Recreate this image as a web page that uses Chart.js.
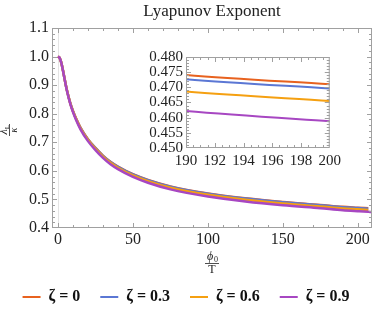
<!DOCTYPE html>
<html>
<head>
<meta charset="utf-8">
<script src="https://cdn.jsdelivr.net/npm/chart.js@4.4.1/dist/chart.umd.min.js"></script>
<style>
  body { margin: 0; background: #fff; }
  #wrap { position: relative; width: 374px; height: 311px; }
  #mainChart { position: absolute; left: 0; top: 0; }
  #insetChart { position: absolute; left: 128px; top: 45px; }
</style>
</head>
<body>
<div id="wrap">
  <canvas id="mainChart" width="374" height="311"></canvas>
  <canvas id="insetChart" width="217" height="135"></canvas>
</div>
<script>
// data
const phiOverT = [0, 1, 2, 3, 4, 5, 6, 8, 10, 12, 15, 20, 25, 30, 35, 40, 50, 60, 75, 100, 125, 150, 175, 190, 200, 207];
const phiOverTLong = [0, 1, 2, 3, 4, 5, 6, 8, 10, 12, 15, 20, 25, 30, 35, 40, 50, 60, 75, 100, 125, 150, 175, 190, 200, 207, 209];
const zeta0 = [1.000, 0.996, 0.982, 0.960, 0.933, 0.906, 0.8815, 0.841, 0.8095, 0.784, 0.7515, 0.711, 0.6803, 0.6536, 0.6318, 0.615, 0.5882, 0.5684, 0.5457, 0.521, 0.5042, 0.4913, 0.4809, 0.4741, 0.471, 0.4689];
const zeta03 = [1.000, 0.996, 0.982, 0.960, 0.933, 0.906, 0.8814, 0.8408, 0.8091, 0.7835, 0.7509, 0.7102, 0.6795, 0.6527, 0.6308, 0.614, 0.5872, 0.5673, 0.5445, 0.5197, 0.5029, 0.490, 0.4795, 0.4727, 0.4696, 0.4675];
const zeta06 = [1.000, 0.996, 0.982, 0.960, 0.933, 0.906, 0.881, 0.840, 0.808, 0.782, 0.749, 0.708, 0.677, 0.650, 0.628, 0.611, 0.584, 0.564, 0.541, 0.516, 0.499, 0.486, 0.4755, 0.4686, 0.4655, 0.4634];
const zeta09 = [1.000, 0.996, 0.982, 0.9595, 0.932, 0.9048, 0.8795, 0.838, 0.8055, 0.779, 0.7455, 0.704, 0.6727, 0.6454, 0.6232, 0.606, 0.5787, 0.5585, 0.5352, 0.510, 0.4928, 0.4796, 0.469, 0.4622, 0.4588, 0.4566, 0.4561];
const zetaLabels = ['\u03B6 = 0', '\u03B6 = 0.3', '\u03B6 = 0.6', '\u03B6 = 0.9'];
const mainXTicks = [0, 50, 100, 150, 200];
const mainYTicks = [0.4, 0.5, 0.6, 0.7, 0.8, 0.9, 1.0, 1.1];
const insetXTicks = [190, 192, 194, 196, 198, 200];
const insetYTicks = [0.450, 0.455, 0.460, 0.465, 0.470, 0.475, 0.480];

const colors = ['#e8621f', '#5b77d4', '#f5a011', '#a747c2'];
const serif = '"Liberation Serif", "DejaVu Serif", serif';

const toPoints = (xs, ys) => xs.map((x, i) => ({ x: x, y: ys[i] }));

function makeDatasets(width) {
  const series = [
    toPoints(phiOverT, zeta0),
    toPoints(phiOverT, zeta03),
    toPoints(phiOverT, zeta06),
    toPoints(phiOverTLong, zeta09),
  ];
  return series.map((pts, i) => ({
    label: zetaLabels[i],
    data: pts,
    borderColor: colors[i],
    backgroundColor: colors[i],
    borderWidth: width,
    pointRadius: 0,
    cubicInterpolationMode: 'monotone',
    order: 3 - i, // purple on top
  }));
}

// frame ticks pointing inward, on all four sides like the original
function frameTicks(o) {
  return {
    id: 'frameTicks',
    afterDatasetsDraw(chart) {
      const ctx = chart.ctx, a = chart.chartArea;
      const xs = chart.scales.x, ys = chart.scales.y;
      ctx.save();
      ctx.strokeStyle = '#a0a0a0';
      ctx.lineWidth = 1;
      ctx.strokeRect(a.left + 0.5, a.top + 0.5, a.right - a.left - 1, a.bottom - a.top - 1);
      ctx.beginPath();
      let n = Math.round((o.xEnd - o.xStart) / o.xMinor);
      for (let i = 0; i <= n; i++) {
        const px = Math.round(xs.getPixelForValue(o.xStart + i * o.xMinor)) + 0.5;
        if (px < a.left || px > a.right) continue;
        const len = i % o.xEvery === 0 ? 5 : 3;
        ctx.moveTo(px, a.bottom); ctx.lineTo(px, a.bottom - len);
        ctx.moveTo(px, a.top); ctx.lineTo(px, a.top + len);
      }
      n = Math.round((o.yEnd - o.yStart) / o.yMinor);
      for (let i = 0; i <= n; i++) {
        const py = Math.round(ys.getPixelForValue(o.yStart + i * o.yMinor)) + 0.5;
        if (py < a.top || py > a.bottom) continue;
        const len = i % o.yEvery === 0 ? 5 : 3;
        ctx.moveTo(a.left, py); ctx.lineTo(a.left + len, py);
        ctx.moveTo(a.right, py); ctx.lineTo(a.right - len, py);
      }
      ctx.stroke();
      ctx.restore();
    },
  };
}

const zeroLine = {
  id: 'zeroLine',
  beforeDatasetsDraw(chart) {
    const ctx = chart.ctx, a = chart.chartArea;
    const px = Math.round(chart.scales.x.getPixelForValue(0)) + 0.5;
    ctx.save();
    ctx.strokeStyle = '#e4e4e4';
    ctx.beginPath();
    ctx.moveTo(px, a.top); ctx.lineTo(px, a.bottom);
    ctx.stroke();
    ctx.restore();
  },
};

// title and the two fraction axis labels
const labels = {
  id: 'labels',
  afterDraw(chart) {
    const ctx = chart.ctx, a = chart.chartArea;
    const cx = (a.left + a.right) / 2;
    ctx.save();
    ctx.fillStyle = '#222';
    ctx.textAlign = 'center';
    ctx.textBaseline = 'middle';
    ctx.font = '17px ' + serif;
    ctx.fillText('Lyapunov Exponent', cx, 12);

    ctx.font = 'italic 12px ' + serif;
    ctx.fillText('\u03D5', cx - 2, 257);
    ctx.font = '8px ' + serif;
    ctx.fillText('0', cx + 4, 260);
    ctx.font = '12px ' + serif;
    ctx.fillText('T', cx, 270);
    ctx.strokeStyle = '#222';
    ctx.lineWidth = 0.8;
    ctx.beginPath();
    ctx.moveTo(cx - 7, 263.5); ctx.lineTo(cx + 7, 263.5);
    ctx.stroke();

    ctx.translate(8, 130);
    ctx.rotate(-Math.PI / 2);
    ctx.font = 'italic 12px ' + serif;
    ctx.fillText('\u03BB', -2, -4);
    ctx.font = '7px ' + serif;
    ctx.fillText('L', 3, -1);
    ctx.font = 'italic 10px ' + serif;
    ctx.fillText('\u03BA', 0, 6);
    ctx.beginPath();
    ctx.moveTo(-6, 1.5); ctx.lineTo(6, 1.5);
    ctx.stroke();
    ctx.restore();
  },
};

const tickFont = { family: serif, size: 16 };
const insetFont = { family: serif, size: 15 };
const noGrid = { display: false, drawTicks: false };

new Chart(document.getElementById('mainChart'), {
  type: 'line',
  data: { datasets: makeDatasets(2.5) },
  options: {
    responsive: false,
    animation: false,
    layout: { padding: { top: 28, right: 2, left: 0, bottom: -4 } },
    scales: {
      x: {
        type: 'linear',
        min: -4,
        max: 209.5,
        afterBuildTicks: (s) => { s.ticks = mainXTicks.map((v) => ({ value: v })); },
        afterFit: (s) => { s.height = 41; },
        grid: noGrid,
        border: { display: false },
        ticks: { font: tickFont, color: '#222', padding: 2, maxRotation: 0, autoSkip: false },
      },
      y: {
        type: 'linear',
        min: 0.4,
        max: 1.1,
        afterBuildTicks: (s) => { s.ticks = mainYTicks.map((v) => ({ value: v })); },
        afterFit: (s) => { s.width = 52; },
        grid: noGrid,
        border: { display: false },
        ticks: { font: tickFont, color: '#222', padding: 3, autoSkip: false, callback: (v) => v.toFixed(1) },
      },
    },
    plugins: {
      legend: {
        position: 'bottom',
        labels: {
          boxWidth: 18,
          boxHeight: 2,
          padding: 20,
          color: '#111',
          font: { family: serif, size: 16, weight: 'bold' },
          sort: (a, b) => a.datasetIndex - b.datasetIndex,
          generateLabels: (chart) =>
            Chart.defaults.plugins.legend.labels.generateLabels(chart).map((l) => ({ ...l, lineWidth: 0 })),
        },
      },
      tooltip: { enabled: false },
    },
  },
  plugins: [zeroLine, frameTicks({ xStart: 0, xEnd: 200, xMinor: 10, xEvery: 5, yStart: 0.4, yEnd: 1.1, yMinor: 0.02, yEvery: 5 }), labels],
});

new Chart(document.getElementById('insetChart'), {
  type: 'line',
  data: { datasets: makeDatasets(2) },
  options: {
    responsive: false,
    animation: false,
    layout: { padding: { top: 8, right: 5, left: 0, bottom: 0 } },
    scales: {
      x: {
        type: 'linear',
        min: 190,
        max: 200,
        afterBuildTicks: (s) => { s.ticks = insetXTicks.map((v) => ({ value: v })); },
        afterFit: (s) => { s.height = 32; },
        grid: noGrid,
        border: { display: false },
        ticks: { font: insetFont, color: '#222', padding: 4, maxRotation: 0, autoSkip: false },
      },
      y: {
        type: 'linear',
        min: 0.45,
        max: 0.48,
        afterBuildTicks: (s) => { s.ticks = insetYTicks.map((v) => ({ value: v })); },
        afterFit: (s) => { s.width = 58; },
        grid: noGrid,
        border: { display: false },
        ticks: { font: insetFont, color: '#222', padding: 3, autoSkip: false, callback: (v) => v.toFixed(3) },
      },
    },
    plugins: { legend: { display: false }, tooltip: { enabled: false } },
  },
  plugins: [frameTicks({ xStart: 190, xEnd: 200, xMinor: 0.5, xEvery: 4, yStart: 0.45, yEnd: 0.48, yMinor: 0.001, yEvery: 5 })],
});
</script>
</body>
</html>
